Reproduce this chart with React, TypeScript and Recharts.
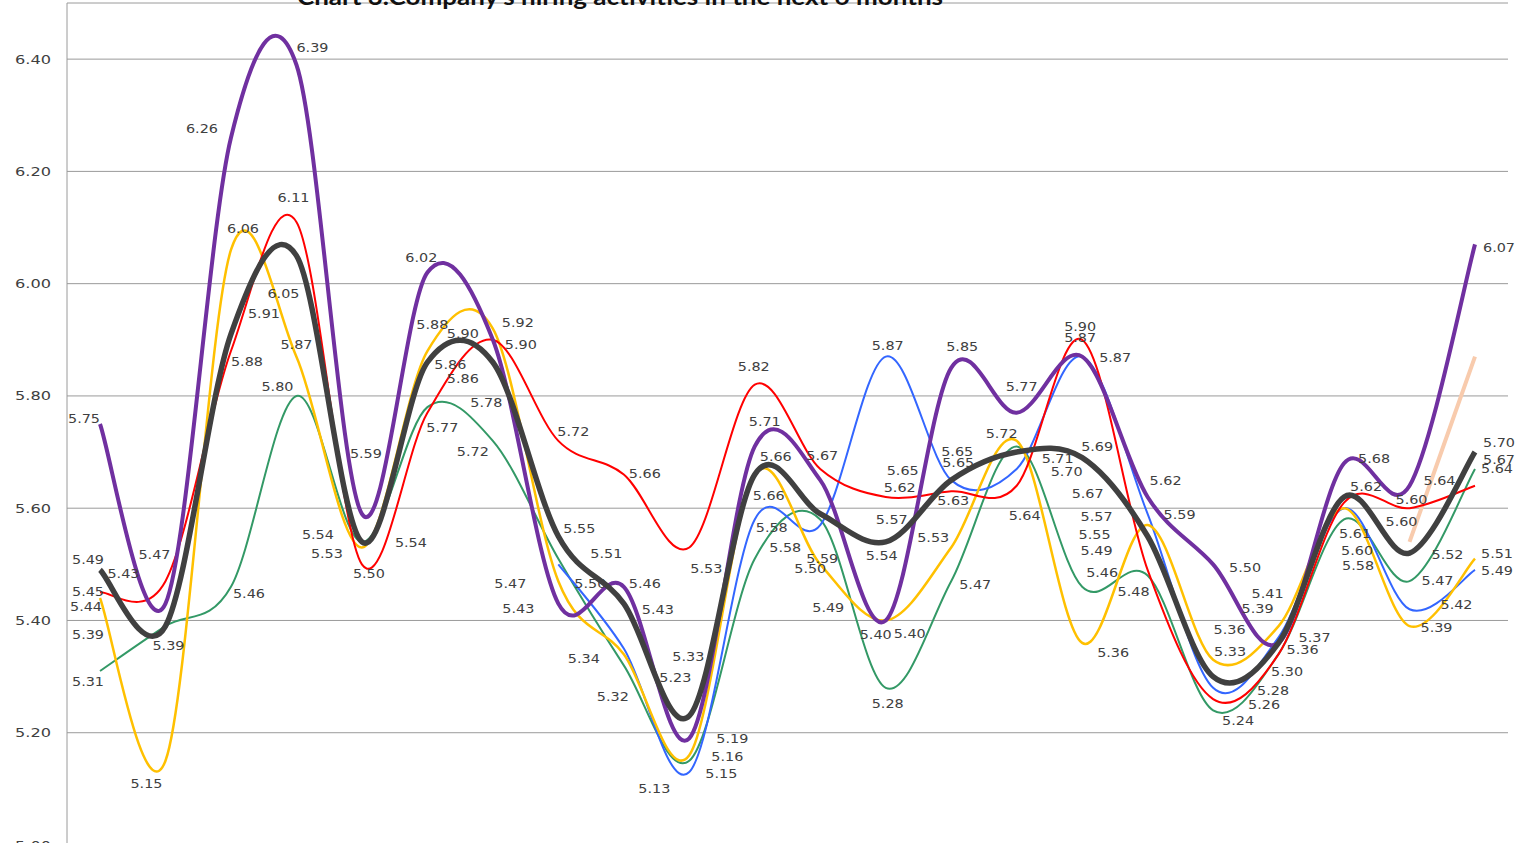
import { LineChart, Line, XAxis, YAxis, CartesianGrid } from "recharts"

// survey rounds (axis labels are cropped out of the picture)
const periods = ["1", "2", "3", "4", "5", "6", "7", "8", "9", "10", "11", "12", "13", "14", "15", "16", "17", "18", "19", "20", "21", "22"]

const yTicks = [5.0, 5.2, 5.4, 5.6, 5.8, 6.0, 6.2, 6.4]

const purple = [5.75, 5.43, 6.26, 6.39, 5.59, 6.02, 5.9, 5.43, 5.46, 5.19, 5.71, 5.65, 5.4, 5.85, 5.77, 5.87, 5.62, 5.5, 5.36, 5.68, 5.64, 6.07]
const red = [5.45, 5.47, 5.88, 6.11, 5.5, 5.77, 5.9, 5.72, 5.66, 5.53, 5.82, 5.67, 5.62, 5.63, 5.64, 5.9, 5.49, 5.26, 5.34, 5.61, 5.6, 5.64]
const yellow = [5.44, 5.15, 6.06, 5.87, 5.53, 5.88, 5.92, 5.47, 5.34, 5.16, 5.66, 5.5, 5.4, 5.53, 5.72, 5.36, 5.57, 5.33, 5.39, 5.6, 5.39, 5.51]
const green = [5.31, 5.39, 5.46, 5.8, 5.54, 5.78, 5.72, 5.51, 5.32, 5.15, 5.51, 5.58, 5.28, 5.47, 5.71, 5.46, 5.48, 5.24, 5.34, 5.58, 5.47, 5.67]
const blue = [null, null, null, null, null, null, null, 5.5, 5.35, 5.13, 5.58, 5.57, 5.87, 5.65, 5.67, 5.87, 5.59, 5.28, 5.37, 5.6, 5.42, 5.49]
const average = [5.49, 5.39, 5.91, 6.05, 5.54, 5.86, 5.86, 5.55, 5.43, 5.23, 5.66, 5.59, 5.54, 5.65, 5.7, 5.69, 5.55, 5.3, 5.36, 5.62, 5.52, 5.7]
const peach = [null, null, null, null, null, null, null, null, null, null, null, null, null, null, null, null, null, null, null, null, 5.54, 5.87]
// values that only show up as labels (no line drawn)
const extraA = [5.39, null, null, null, null, null, null, null, null, 5.33, null, 5.49, 5.65, null, null, null, null, null, 5.41, null, 5.6, null]
const extraB = [null, null, null, null, null, null, null, null, null, null, null, null, 5.57, null, null, null, null, null, null, null, null, null]

type Off = [number, number] | null

// label offsets from the point, in px
const purpleLbl: Off[] = [[-16, -6], [-42, -30], [-29, -9], [16, -17], [4, -61], [-6, -15], [-30, -7], [-40, 5], [21, -3], [43, 0], [10, -25], null, [-10, 14], [11, -22], [5, -26], [-2, -19], [18, -17], [32, 3], [24, 6], [30, -5], [30, -5], [24, 3]]
const redLbl: Off[] = [[-12, -1], [-11, -27], [16, 10], [-3, -25], [7, 9], [15, 15], [28, 4], [15, -10], [21, -1], [17, 21], [-1, -18], [2, -14], [14, -10], [2, 9], [8, 30], [-2, -14], [-51, -20], [51, 5], null, [11, 31], [2, -9], [22, -17]]
const yellowLbl: Off[] = [[-14, 8], [-19, 22], [12, -22], [0, -12], [-35, 6], [5, -27], [25, -6], [-48, 2], [-40, 4], [38, 1], [14, 21], [-10, 4], [24, 13], [-18, -10], [-15, -8], [31, 9], [-51, -9], [17, -8], [-21, -18], [13, 42], [27, 1], [22, -5]]
const greenLbl: Off[] = [[-12, 10], [3, 19], [18, 7], [-19, -10], [-44, -8], [59, -5], [-20, 10], [48, -5], [-11, 31], [32, 12], null, [-35, 28], [2, 15], [24, 3], [41, 12], [20, -14], [-14, 16], [25, 10], null, [14, 46], [28, -1], [24, -10]]
const blueLbl: Off[] = [null, null, null, null, null, null, null, [32, 19], null, [-35, 16], [17, 8], null, [2, -11], [6, -29], [71, 24], [33, 1], [32, 0], [60, 2], [36, 0], null, [47, -5], [22, 0]]
const averageLbl: Off[] = [[-12, -11], null, [33, -21], [-13, 38], [49, 0], [23, 2], [-30, 16], [21, -8], [34, 6], [-14, -39], [21, -18], [2, 44], [-4, 13], [7, -18], [50, 19], [15, -11], [-53, -2], [74, -5], [-49, -14], [22, -11], [38, 1], [24, -10]]
const extraALbl: Off[] = [[-12, 8], null, null, null, null, null, null, null, null, [-1, -3], null, [8, 37], [17, -10], null, null, null, null, null, [-11, -22], null, [-8, 13], null]
const extraBLbl: Off[] = [null, null, null, null, null, null, null, null, null, null, null, null, [6, -6], null, null, null, null, null, null, null, null, null]

const data = periods.map((p, i) => ({
  period: p,
  purple: purple[i],
  red: red[i],
  yellow: yellow[i],
  green: green[i],
  blue: blue[i],
  average: average[i],
  peach: peach[i],
  extraA: extraA[i],
  extraB: extraB[i],
}))

// Excel-like smoothed line (Catmull-Rom through the points)
const smooth = (context: any) => {
  let pts: number[][] = []
  return {
    areaStart() {},
    areaEnd() {},
    lineStart() {
      pts = []
    },
    point(x: number, y: number) {
      pts.push([+x, +y])
    },
    lineEnd() {
      const n = pts.length
      if (!n) return
      context.moveTo(pts[0][0], pts[0][1])
      for (let i = 0; i < n - 1; i++) {
        const p0 = pts[Math.max(i - 1, 0)]
        const p1 = pts[i]
        const p2 = pts[i + 1]
        const p3 = pts[Math.min(i + 2, n - 1)]
        context.bezierCurveTo(
          p1[0] + (p2[0] - p0[0]) / 6,
          p1[1] + (p2[1] - p0[1]) / 6,
          p2[0] - (p3[0] - p1[0]) / 6,
          p2[1] - (p3[1] - p1[1]) / 6,
          p2[0],
          p2[1]
        )
      }
    },
  }
}

const makeLabel = (offsets: Off[]) => (p: any) => {
  const { cx, cy, index, value } = p
  const off = offsets[index]
  if (value == null || !off || cx == null || cy == null || isNaN(cy)) return <g key={`e-${index}`} />
  return (
    <text
      key={`l-${index}`}
      x={cx + off[0]}
      y={cy + off[1] + 4.7}
      textAnchor="middle"
      fontFamily="DejaVu Sans"
      fontSize={13}
      fill="#404040"
      textLength={32}
      lengthAdjust="spacingAndGlyphs"
    >
      {Number(value).toFixed(2)}
    </text>
  )
}

const series = [
  { key: "peach", name: "Series 7", color: "#F8CBAD", width: 4, labels: null as Off[] | null },
  { key: "extraA", name: "Extra A", color: "none", width: 0, labels: extraALbl },
  { key: "extraB", name: "Extra B", color: "none", width: 0, labels: extraBLbl },
  { key: "green", name: "Series 4", color: "#339966", width: 2, labels: greenLbl },
  { key: "blue", name: "Series 5", color: "#3366FF", width: 2, labels: blueLbl },
  { key: "yellow", name: "Series 3", color: "#FFC000", width: 2.5, labels: yellowLbl },
  { key: "red", name: "Series 2", color: "#FF0000", width: 2, labels: redLbl },
  { key: "purple", name: "Series 1", color: "#7030A0", width: 4, labels: purpleLbl },
  { key: "average", name: "Average", color: "#404040", width: 5.5, labels: averageLbl },
]

const YTick = (p: any) => (
  <text
    x={p.x}
    y={p.y + 4.5}
    textAnchor="end"
    fontFamily="DejaVu Sans"
    fontSize={12.5}
    fill="#404040"
    textLength={36}
    lengthAdjust="spacingAndGlyphs"
  >
    {Number(p.payload.value).toFixed(2)}
  </text>
)

export default function App() {
  return (
    <div style={{ position: "absolute", left: 0, top: 0, width: 1521, height: 843, overflow: "hidden", background: "#fff" }}>
      <LineChart width={1521} height={871} data={data} margin={{ top: 3, right: 13, bottom: 26, left: 0 }}>
        <CartesianGrid vertical={false} stroke="#9a9a9a" />
        <XAxis dataKey="period" hide padding={{ left: 33, right: 33 }} />
        <YAxis
          domain={[5.0, 6.5]}
          ticks={yTicks}
          width={67}
          tickSize={6}
          tickMargin={10}
          tickLine={false}
          axisLine={{ stroke: "#9a9a9a" }}
          tick={<YTick />}
        />
        {series.map((s) => (
          <Line
            key={s.key}
            dataKey={s.key}
            name={s.name}
            type={smooth as any}
            stroke={s.color}
            strokeWidth={s.width}
            connectNulls={false}
            dot={s.labels ? makeLabel(s.labels) : false}
            activeDot={false}
            isAnimationActive={false}
          />
        ))}
      </LineChart>
      <svg width={1521} height={14} style={{ position: "absolute", left: 0, top: 0 }}>
        <text
          x={620}
          y={5}
          textAnchor="middle"
          fontFamily="Lato"
          fontWeight={700}
          fontSize={22}
          fill="#111"
          textLength={646}
          lengthAdjust="spacingAndGlyphs"
        >
          Chart 3.Company's hiring activities in the next 6 months
        </text>
      </svg>
    </div>
  )
}
